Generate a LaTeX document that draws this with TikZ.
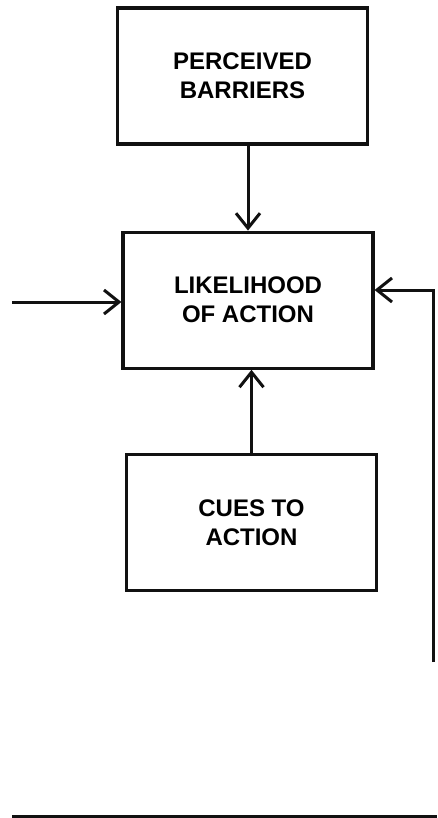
\documentclass[tikz,border=0pt]{standalone}
\usepackage{fontspec}
\setmainfont{Liberation Sans}
\usepackage{xcolor}
\definecolor{inkDark}{HTML}{111111}
\usepackage{tikz}
\usetikzlibrary{positioning,calc,arrows.meta}
\tikzset{%
  conceptBox/.style={%
    rectangle,
    draw=inkDark,
    line width=3.2pt,
    minimum width=250pt,
    minimum height=136pt,
    align=center,
    font=\bfseries\fontsize{24}{29}\selectfont
  },
  arrowLine/.style={%
    -{Straight Barb[length=15pt,width=24pt]},
    line width=3pt,
    color=inkDark
  },
  plainLine/.style={%
    line width=3pt,
    color=inkDark
  }
}
\begin{document}
\begin{tikzpicture}[x=1pt,y=-1pt]
  \useasboundingbox (0,0) rectangle (437,818);

  \node[conceptBox] (barriers) at (242.5,76) {PERCEIVED\\BARRIERS};
  \node[conceptBox, below=85pt of barriers, xshift=5.5pt] (likelihood) {LIKELIHOOD\\OF ACTION};
  \node[conceptBox, below=83pt of likelihood, xshift=3.5pt] (cues) {CUES TO\\ACTION};

  \coordinate (leftIn) at (12,302);
  \coordinate (rightTurn) at (433,290);
  \coordinate (rightEnd) at (433,662);
  \coordinate (baseL) at (12,816);
  \coordinate (baseR) at (437,816);

  \draw[arrowLine] (barriers.south -| likelihood.north) -- (likelihood.north);
  \draw[arrowLine] (cues.north) -- (cues.north |- likelihood.south);
  \draw[arrowLine] (leftIn) -- (leftIn -| likelihood.west);
  \draw[arrowLine] (rightEnd) -- (rightTurn) -- (rightTurn -| likelihood.east);
  \draw[plainLine] (baseL) -- (baseR);
\end{tikzpicture}
\end{document}
